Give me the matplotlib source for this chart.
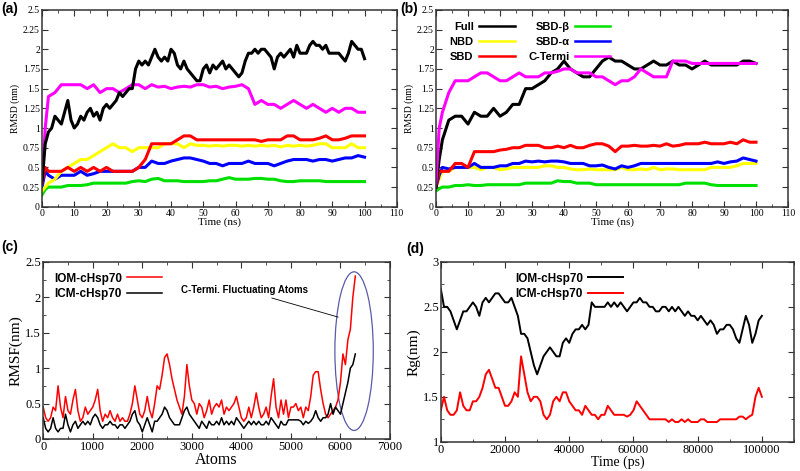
import matplotlib
matplotlib.use('Agg')
import matplotlib.pyplot as plt
import numpy as np
from matplotlib.patches import Ellipse
from matplotlib.ticker import MultipleLocator, FormatStrFormatter

# ---- (a) RMSD, first system ----
t1 = list(range(0, 101))
t2 = [0, 1] + list(range(2, 101, 2))

a_full = [0.3, 0.8, 0.95, 1.0, 1.15, 1.1, 1.05, 1.2, 1.35, 1.1,
          1.0, 1.05, 1.15, 1.1, 1.2, 1.25, 1.15, 1.2, 1.1, 1.25,
          1.3, 1.25, 1.3, 1.35, 1.45, 1.4, 1.45, 1.5, 1.5, 1.75,
          1.85, 1.8, 1.85, 1.8, 1.9, 2.0, 1.9, 1.85, 1.9, 1.85,
          2.0, 1.95, 1.8, 1.75, 1.85, 1.75, 1.7, 1.65, 1.6, 1.6,
          1.75, 1.8, 1.7, 1.8, 1.75, 1.8, 1.85, 1.75, 1.8, 1.75,
          1.7, 1.65, 1.7, 1.85, 1.95, 1.95, 2.0, 1.95, 2.0, 2.0,
          1.95, 1.9, 1.75, 1.9, 1.95, 1.9, 1.95, 2.0, 1.9, 2.05,
          1.95, 1.95, 1.95, 2.05, 2.1, 2.05, 2.05, 2.0, 2.05, 1.95,
          1.95, 1.95, 1.95, 1.9, 1.85, 1.95, 2.1, 2.05, 2.0, 2.0,
          1.88]
a_cterm = [0.3, 1.0, 1.4, 1.45, 1.55, 1.55, 1.55, 1.55, 1.5, 1.55,
           1.45, 1.5, 1.5, 1.45, 1.5, 1.55, 1.55, 1.5, 1.55, 1.52,
           1.53, 1.5, 1.52, 1.53, 1.52, 1.55, 1.55, 1.52, 1.53, 1.5,
           1.52, 1.53, 1.55, 1.5, 1.3, 1.35, 1.3, 1.3, 1.25, 1.3,
           1.35, 1.3, 1.25, 1.3, 1.25, 1.2, 1.25, 1.2, 1.25, 1.25,
           1.2, 1.2]
a_sbd = [0.3, 0.5, 0.45, 0.45, 0.45, 0.5, 0.45, 0.5, 0.45, 0.5,
         0.45, 0.5, 0.45, 0.45, 0.45, 0.45, 0.5, 0.6, 0.8, 0.8,
         0.8, 0.8, 0.85, 0.9, 0.9, 0.85, 0.85, 0.85, 0.85, 0.85,
         0.85, 0.85, 0.85, 0.85, 0.85, 0.83, 0.85, 0.85, 0.85, 0.9,
         0.9, 0.85, 0.85, 0.85, 0.87, 0.9, 0.85, 0.85, 0.87, 0.9,
         0.9, 0.9]
a_nbd = [0.2, 0.25, 0.3, 0.35, 0.45, 0.5, 0.55, 0.6, 0.6, 0.65,
         0.7, 0.75, 0.8, 0.75, 0.75, 0.7, 0.75, 0.75, 0.75, 0.75,
         0.8, 0.8, 0.8, 0.75, 0.8, 0.78, 0.78, 0.77, 0.78, 0.77,
         0.78, 0.78, 0.77, 0.78, 0.77, 0.78, 0.77, 0.78, 0.76, 0.78,
         0.77, 0.78, 0.77, 0.78, 0.8, 0.8, 0.75, 0.75, 0.75, 0.8,
         0.75, 0.75]
a_sbda = [0.25, 0.45, 0.4, 0.35, 0.4, 0.4, 0.4, 0.45, 0.4, 0.42,
          0.45, 0.45, 0.45, 0.45, 0.45, 0.45, 0.5, 0.5, 0.58, 0.55,
          0.55, 0.58, 0.6, 0.62, 0.62, 0.6, 0.58, 0.55, 0.55, 0.52,
          0.55, 0.55, 0.55, 0.58, 0.55, 0.55, 0.55, 0.52, 0.55, 0.58,
          0.6, 0.6, 0.6, 0.58, 0.6, 0.6, 0.58, 0.6, 0.62, 0.62,
          0.65, 0.63]
a_sbdb = [0.15, 0.22, 0.25, 0.25, 0.25, 0.27, 0.27, 0.27, 0.28, 0.3,
          0.3, 0.3, 0.3, 0.3, 0.3, 0.32, 0.33, 0.32, 0.35, 0.36,
          0.33, 0.33, 0.33, 0.32, 0.32, 0.32, 0.32, 0.33, 0.33, 0.35,
          0.37, 0.35, 0.35, 0.35, 0.36, 0.36, 0.35, 0.35, 0.33, 0.32,
          0.32, 0.33, 0.33, 0.33, 0.33, 0.32, 0.32, 0.32, 0.32, 0.32,
          0.32, 0.32]

# ---- (b) RMSD, second system ----
b_full = [0.25, 0.6, 0.85, 1.1, 1.15, 1.15, 1.05, 1.2, 1.15, 1.15,
          1.25, 1.15, 1.2, 1.3, 1.3, 1.5, 1.5, 1.55, 1.6, 1.7,
          1.75, 1.85, 1.75, 1.7, 1.65, 1.65, 1.75, 1.85, 1.9, 1.85,
          1.85, 1.8, 1.75, 1.75, 1.8, 1.85, 1.8, 1.8, 1.85, 1.8,
          1.8, 1.75, 1.8, 1.85, 1.8, 1.8, 1.8, 1.8, 1.8, 1.85,
          1.85, 1.82]
b_cterm = [0.3, 1.0, 1.2, 1.45, 1.6, 1.6, 1.6, 1.65, 1.7, 1.7,
           1.65, 1.6, 1.6, 1.65, 1.7, 1.65, 1.65, 1.65, 1.7, 1.7,
           1.72, 1.75, 1.75, 1.7, 1.7, 1.7, 1.65, 1.65, 1.6, 1.55,
           1.6, 1.6, 1.65, 1.75, 1.7, 1.65, 1.65, 1.65, 1.85, 1.85,
           1.85, 1.82, 1.82, 1.82, 1.82, 1.82, 1.82, 1.82, 1.82, 1.82,
           1.82, 1.82]
b_sbd = [0.25, 0.45, 0.45, 0.45, 0.55, 0.55, 0.5, 0.7, 0.7, 0.7,
         0.7, 0.72, 0.73, 0.75, 0.75, 0.78, 0.78, 0.78, 0.75, 0.75,
         0.77, 0.75, 0.78, 0.75, 0.75, 0.78, 0.8, 0.8, 0.77, 0.7,
         0.77, 0.77, 0.78, 0.77, 0.77, 0.78, 0.77, 0.8, 0.77, 0.78,
         0.8, 0.8, 0.8, 0.82, 0.8, 0.8, 0.8, 0.82, 0.8, 0.85,
         0.82, 0.82]
b_nbd = [0.25, 0.35, 0.45, 0.45, 0.5, 0.5, 0.5, 0.5, 0.47, 0.5,
         0.5, 0.47, 0.48, 0.5, 0.5, 0.5, 0.5, 0.5, 0.52, 0.52,
         0.5, 0.5, 0.48, 0.47, 0.47, 0.48, 0.47, 0.47, 0.47, 0.47,
         0.5, 0.47, 0.47, 0.48, 0.47, 0.5, 0.47, 0.48, 0.48, 0.47,
         0.47, 0.47, 0.47, 0.47, 0.5, 0.5, 0.5, 0.5, 0.52, 0.55,
         0.55, 0.55]
b_sbda = [0.25, 0.4, 0.5, 0.48, 0.5, 0.5, 0.5, 0.55, 0.5, 0.5,
          0.5, 0.52, 0.52, 0.55, 0.55, 0.58, 0.57, 0.58, 0.57, 0.58,
          0.58, 0.57, 0.55, 0.55, 0.55, 0.52, 0.52, 0.53, 0.5, 0.48,
          0.52, 0.5, 0.52, 0.55, 0.55, 0.55, 0.55, 0.55, 0.55, 0.55,
          0.55, 0.55, 0.55, 0.55, 0.55, 0.57, 0.55, 0.57, 0.58, 0.62,
          0.6, 0.58]
b_sbdb = [0.2, 0.23, 0.25, 0.25, 0.27, 0.27, 0.28, 0.27, 0.27, 0.28,
          0.28, 0.28, 0.28, 0.28, 0.28, 0.3, 0.3, 0.3, 0.3, 0.3,
          0.33, 0.32, 0.32, 0.3, 0.3, 0.3, 0.28, 0.28, 0.28, 0.28,
          0.28, 0.28, 0.28, 0.28, 0.28, 0.28, 0.28, 0.28, 0.28, 0.28,
          0.3, 0.3, 0.3, 0.3, 0.28, 0.27, 0.27, 0.27, 0.27, 0.27,
          0.27, 0.27]

# ---- (c) RMSF per atom ----
atoms = list(range(0, 6301, 50))
rmsf_iom = [0.45, 0.3, 0.25, 0.3, 0.45, 0.4, 0.75, 0.45, 0.3, 0.6,
            0.4, 0.35, 0.55, 0.7, 0.4, 0.25, 0.3, 0.45, 0.35, 0.4,
            0.45, 0.55, 0.7, 0.4, 0.25, 0.35, 0.3, 0.4, 0.3, 0.25,
            0.35, 0.25, 0.3, 0.25, 0.25, 0.35, 0.5, 0.75, 0.55, 0.35,
            0.3, 0.4, 0.6, 0.4, 0.3, 0.5, 0.75, 0.7, 0.9, 1.15,
            1.2, 1.05, 0.85, 0.7, 0.55, 0.45, 0.35, 0.6, 1.05, 0.75,
            0.55, 0.5, 0.35, 0.5, 0.45, 0.3, 0.4, 0.55, 0.35, 0.45,
            0.5, 0.45, 0.55, 0.35, 0.45, 0.4, 0.45, 0.5, 0.6, 0.45,
            0.3, 0.25, 0.3, 0.45, 0.3, 0.45, 0.65, 0.45, 0.3, 0.35,
            0.45, 0.3, 0.6, 0.85, 0.45, 0.3, 0.55, 0.35, 0.55, 0.3,
            0.45, 0.45, 0.5, 0.4, 0.45, 0.3, 0.45, 0.4, 0.6, 0.9,
            0.95, 0.95, 0.7, 0.5, 0.35, 0.3, 0.35, 0.4, 0.45, 0.55,
            0.8, 1.2, 1.05, 1.4, 1.55, 2.0, 2.3]
rmsf_icm = [0.3, 0.15, 0.1, 0.15, 0.3, 0.15, 0.1, 0.15, 0.15, 0.35,
            0.2, 0.1, 0.2, 0.25, 0.15, 0.2, 0.25, 0.2, 0.25, 0.2,
            0.3, 0.35, 0.3, 0.2, 0.15, 0.2, 0.2, 0.25, 0.2, 0.2,
            0.15, 0.2, 0.2, 0.15, 0.2, 0.25, 0.35, 0.4, 0.25, 0.2,
            0.1, 0.2, 0.3, 0.2, 0.1, 0.25, 0.25, 0.3, 0.35, 0.45,
            0.4, 0.3, 0.25, 0.2, 0.2, 0.2, 0.3, 0.4, 0.45, 0.35,
            0.3, 0.25, 0.2, 0.15, 0.25, 0.2, 0.15, 0.25, 0.2, 0.2,
            0.25, 0.2, 0.3, 0.2, 0.25, 0.2, 0.25, 0.2, 0.3, 0.25,
            0.2, 0.15, 0.2, 0.25, 0.2, 0.25, 0.2, 0.25, 0.2, 0.2,
            0.25, 0.2, 0.3, 0.25, 0.2, 0.15, 0.25, 0.2, 0.2, 0.27,
            0.27, 0.27, 0.27, 0.27, 0.25, 0.2, 0.25, 0.22, 0.25, 0.3,
            0.4, 0.3, 0.25, 0.3, 0.3, 0.35, 0.5, 0.35, 0.45, 0.4,
            0.35, 0.5, 0.65, 0.8, 1.0, 1.05, 1.2]

# ---- (d) radius of gyration ----
time_ps = list(range(0, 100001, 1000))
rg_iom = [2.7, 2.5, 2.5, 2.45, 2.35, 2.25, 2.35, 2.45, 2.45, 2.5,
          2.55, 2.5, 2.4, 2.55, 2.6, 2.55, 2.6, 2.65, 2.65, 2.6,
          2.55, 2.55, 2.6, 2.5, 2.4, 2.2, 2.2, 2.15, 2.0, 1.85,
          1.75, 1.85, 1.95, 2.0, 2.05, 2.0, 1.95, 1.95, 2.1, 2.15,
          2.1, 2.2, 2.25, 2.25, 2.3, 2.25, 2.3, 2.55, 2.5, 2.5,
          2.5, 2.5, 2.55, 2.5, 2.55, 2.5, 2.55, 2.5, 2.45, 2.5,
          2.55, 2.55, 2.6, 2.55, 2.55, 2.5, 2.5, 2.45, 2.45, 2.5,
          2.5, 2.45, 2.5, 2.45, 2.5, 2.45, 2.4, 2.45, 2.4, 2.4,
          2.35, 2.4, 2.35, 2.3, 2.35, 2.3, 2.2, 2.25, 2.25, 2.3,
          2.3, 2.25, 2.15, 2.1, 2.25, 2.4, 2.3, 2.1, 2.2, 2.35,
          2.4]
rg_icm = [1.35, 1.5, 1.35, 1.3, 1.3, 1.35, 1.55, 1.4, 1.35, 1.35,
          1.45, 1.45, 1.5, 1.6, 1.75, 1.8, 1.7, 1.6, 1.6, 1.5,
          1.4, 1.4, 1.45, 1.55, 1.5, 1.95, 1.75, 1.55, 1.45, 1.5,
          1.5, 1.45, 1.3, 1.25, 1.3, 1.45, 1.5, 1.45, 1.55, 1.55,
          1.45, 1.4, 1.35, 1.35, 1.3, 1.4, 1.35, 1.3, 1.3, 1.25,
          1.3, 1.3, 1.4, 1.35, 1.3, 1.3, 1.3, 1.3, 1.28, 1.3,
          1.35, 1.45, 1.4, 1.35, 1.3, 1.25, 1.25, 1.25, 1.25, 1.25,
          1.25, 1.22, 1.25, 1.22, 1.22, 1.25, 1.22, 1.25, 1.22, 1.22,
          1.22, 1.25, 1.25, 1.22, 1.22, 1.22, 1.22, 1.25, 1.25, 1.25,
          1.25, 1.25, 1.25, 1.28, 1.28, 1.25, 1.28, 1.3, 1.5, 1.6,
          1.5]

domain_names = ['Full', 'NBD', 'SBD', 'SBD-β', 'SBD-α', 'C-Termi']
domain_colors = ['black', '#ffff00', '#ff0000', '#00e000', '#0000ff', '#ff00ff']

SERIF = 'Liberation Serif'
SANS = 'Liberation Sans'


def style_axes(ax, tick_size):
    ax.tick_params(which='both', direction='in', top=True, right=True,
                   labelsize=tick_size, color='#333333', pad=1.5)
    ax.tick_params(which='major', length=4, width=0.8)
    ax.tick_params(which='minor', length=2, width=0.6)
    for lab in ax.get_xticklabels() + ax.get_yticklabels():
        lab.set_fontfamily(SERIF)
    for s in ax.spines.values():
        s.set_linewidth(1.1)
        s.set_color('#333333')


fig = plt.figure(figsize=(8, 4.71), dpi=100)

# (a) and (b)
ax_a = fig.add_axes([0.0525, 0.561, 0.4435, 0.418])
ax_b = fig.add_axes([0.545, 0.561, 0.44, 0.418])
sets = [(ax_a, [a_full, a_nbd, a_sbd, a_sbdb, a_sbda, a_cterm], '(a)', 0.002),
        (ax_b, [b_full, b_nbd, b_sbd, b_sbdb, b_sbda, b_cterm], '(b)', 0.5)]
for ax, series, tag, tx in sets:
    order = [3, 4, 1, 2, 5, 0] if tag == '(a)' else [3, 1, 4, 2, 0, 5]
    lines = {}
    for i in order:
        xs = t1 if len(series[i]) == len(t1) else t2
        lines[i], = ax.plot(xs, series[i], color=domain_colors[i], lw=2.2,
                            label=domain_names[i])
    ax.set_xlim(0, 110)
    ax.set_ylim(0, 2.5)
    ax.xaxis.set_major_locator(MultipleLocator(10))
    ax.xaxis.set_minor_locator(MultipleLocator(5))
    ax.yaxis.set_major_locator(MultipleLocator(0.25))
    ax.yaxis.set_major_formatter(FormatStrFormatter('%g'))
    style_axes(ax, 7)
    ax.set_xlabel('Time (ns)', family=SERIF, fontsize=8, labelpad=0)
    ax.set_ylabel('RMSD (nm)', family=SERIF, fontsize=7, labelpad=2)
    fig.text(tx, 0.995, tag, fontsize=10, fontweight='bold', family=SANS,
             va='top', ha='left')
    if tag == '(b)':
        leg = ax.legend([lines[i] for i in range(6)], domain_names, ncol=2,
                        loc='upper left', bbox_to_anchor=(0.01, 0.99),
                        frameon=False, markerfirst=False, handlelength=3.2,
                        columnspacing=1.2, labelspacing=0.45, handletextpad=0.5,
                        prop={'family': [SANS, 'DejaVu Sans'], 'weight': 'bold',
                              'size': 8})
        for h in leg.get_lines():
            h.set_linewidth(1.8)

# (c)
ax_c = fig.add_axes([0.054, 0.068, 0.4335, 0.376])
ax_c.plot(atoms, rmsf_iom, color='#ff0000', lw=1.1, label='IOM-cHsp70')
ax_c.plot(atoms, rmsf_icm, color='black', lw=1.1, label='ICM-cHsp70')
ax_c.set_xlim(0, 7000)
ax_c.set_ylim(0, 2.5)
ax_c.xaxis.set_major_locator(MultipleLocator(1000))
ax_c.xaxis.set_minor_locator(MultipleLocator(500))
ax_c.yaxis.set_major_locator(MultipleLocator(0.5))
ax_c.yaxis.set_minor_locator(MultipleLocator(0.25))
ax_c.yaxis.set_major_formatter(FormatStrFormatter('%g'))
style_axes(ax_c, 9)
ax_c.set_xlabel('Atoms', family=SERIF, fontsize=11.5, labelpad=-1)
ax_c.set_ylabel('RMSF(nm)', family=SERIF, fontsize=11, labelpad=2)
ax_c.legend(loc='upper left', bbox_to_anchor=(0.0, 1.0), frameon=False,
            markerfirst=False, handlelength=3.0, labelspacing=0.3,
            handletextpad=0.4, prop={'family': SANS, 'weight': 'bold', 'size': 8.5})
ax_c.add_patch(Ellipse((6275, 1.24), 775, 2.24, fill=False,
                       edgecolor='#5a5aa8', lw=0.9))
ax_c.annotate('C-Termi. Fluctuating Atoms', xy=(5955, 1.72), xytext=(5350, 2.1),
              fontsize=7, fontweight='bold', family=SANS, ha='right', va='center',
              arrowprops=dict(arrowstyle='-', color='black', lw=0.6,
                              shrinkA=0, shrinkB=0))
fig.text(0.002, 0.475, '(c)', fontsize=10, fontweight='bold', family=SANS,
         va='center', ha='left')

# (d)
ax_d = fig.add_axes([0.551, 0.062, 0.4415, 0.382])
ax_d.plot(time_ps, rg_iom, color='black', lw=1.4, label='IOM-cHsp70')
ax_d.plot(time_ps, rg_icm, color='#ff0000', lw=1.4, label='ICM-cHsp70')
ax_d.set_xlim(0, 110000)
ax_d.set_ylim(1, 3)
ax_d.xaxis.set_major_locator(MultipleLocator(20000))
ax_d.xaxis.set_minor_locator(MultipleLocator(10000))
ax_d.yaxis.set_major_locator(MultipleLocator(0.5))
ax_d.yaxis.set_minor_locator(MultipleLocator(0.25))
ax_d.yaxis.set_major_formatter(FormatStrFormatter('%g'))
style_axes(ax_d, 9)
ax_d.set_xlabel('Time (ps)', family=SERIF, fontsize=10, labelpad=0)
ax_d.set_ylabel('Rg(nm)', family=SERIF, fontsize=11, labelpad=2)
ax_d.legend(loc='upper left', bbox_to_anchor=(0.18, 1.0), frameon=False,
            markerfirst=False, handlelength=3.0, labelspacing=0.3,
            handletextpad=0.4, prop={'family': SANS, 'weight': 'bold', 'size': 8.5})
fig.text(0.508, 0.472, '(d)', fontsize=10, fontweight='bold', family=SANS,
         va='center', ha='left')

fig.savefig('out.png', dpi=100)
